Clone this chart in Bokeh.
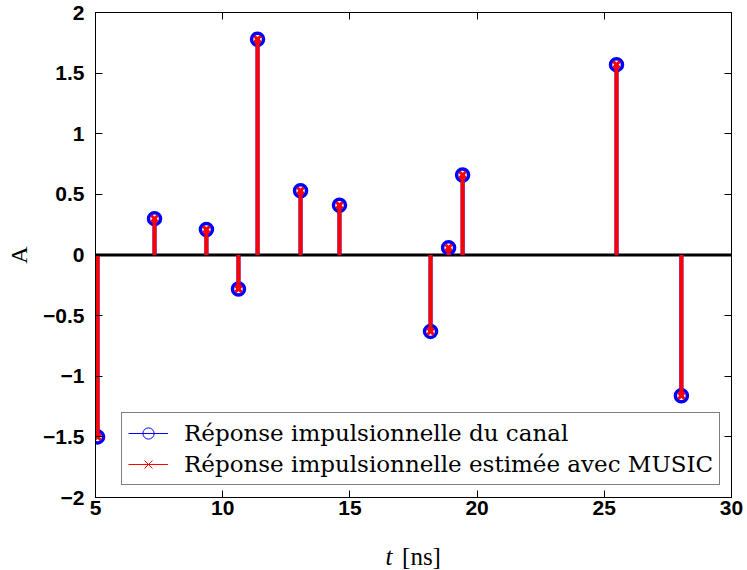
from bokeh.plotting import figure
from bokeh.models import LinearAxis, Legend, LegendItem, Range1d, FixedTicker
from bokeh.layouts import column
from bokeh.core.properties import value
from bokeh.embed import file_html
from bokeh.resources import INLINE

# data
t_ns = [5.08, 7.32, 9.36, 10.62, 11.37, 13.06, 14.59, 18.17, 18.88, 19.43, 25.48, 28.03]
amp_true = [-1.50, 0.30, 0.21, -0.28, 1.78, 0.53, 0.41, -0.63, 0.06, 0.66, 1.57, -1.16]
amp_music = [-1.50, 0.30, 0.21, -0.28, 1.78, 0.53, 0.41, -0.63, 0.06, 0.66, 1.57, -1.16]
x_ticks = [5, 10, 15, 20, 25, 30]
y_ticks = [-2, -1.5, -1, -0.5, 0, 0.5, 1, 1.5, 2]
y_tick_labels = ["\u22122", "\u22121.5", "\u22121", "\u22120.5", "0", "0.5", "1", "1.5", "2"]
legend_labels = ["Réponse impulsionnelle du canal", "Réponse impulsionnelle estimée avec MUSIC"]
x_label_parts = ["t", "[ns]"]
y_label = "A"

W = 747
p = figure(width=W, height=532, output_backend="svg", toolbar_location=None,
           x_range=Range1d(5, 30), y_range=Range1d(-2, 2),
           min_border_left=95, min_border_right=16, min_border_top=12, min_border_bottom=35,
           x_axis_location=None, y_axis_location=None)
p.xgrid.visible = False
p.ygrid.visible = False
p.outline_line_color = "black"
p.outline_line_width = 1
p.background_fill_color = "white"
p.border_fill_color = "white"

def style_axis(ax, ticks, labels=True, overrides=None):
    ax.ticker = FixedTicker(ticks=ticks)
    ax.minor_tick_line_color = None
    ax.major_tick_in = 7
    ax.major_tick_out = 0
    ax.major_tick_line_color = "black"
    ax.axis_line_color = "black"
    if labels:
        ax.major_label_text_font = "Liberation Sans"
        ax.major_label_text_font_style = "bold"
        ax.major_label_text_font_size = "21px"
        ax.major_label_text_color = "black"
        if overrides:
            ax.major_label_overrides = overrides
    else:
        ax.major_label_text_font_size = "1px"
        ax.major_label_text_color = None
        ax.major_label_standoff = 0

xb = LinearAxis()
style_axis(xb, x_ticks)
xb.major_label_standoff = 3
p.add_layout(xb, "below")
yl = LinearAxis(axis_label=y_label)
style_axis(yl, y_ticks, overrides={v: s for v, s in zip(y_ticks, y_tick_labels)})
yl.major_label_standoff = 11
yl.axis_label_text_font = "Liberation Serif"
yl.axis_label_text_font_style = "normal"
yl.axis_label_text_font_size = "24px"
yl.axis_label_text_color = "black"
yl.axis_label_standoff = 8
p.add_layout(yl, "left")
xt = LinearAxis()
style_axis(xt, x_ticks, labels=False)
p.add_layout(xt, "above")
yr = LinearAxis()
style_axis(yr, y_ticks, labels=False)
p.add_layout(yr, "right")

# baseline
p.segment(x0=[5], y0=[0], x1=[30], y1=[0], line_color="black", line_width=3)

# true response stems
zeros = [0] * len(t_ns)
p.segment(x0=t_ns, y0=zeros, x1=t_ns, y1=amp_true, line_color="blue", line_width=4)
p.scatter(t_ns, amp_true, marker="circle", size=12, line_color="blue", line_width=3.5, fill_color=None)
# MUSIC stems
p.segment(x0=t_ns, y0=zeros, x1=t_ns, y1=amp_music, line_color="red", line_width=4)
p.scatter(t_ns, amp_music, marker="x", size=9, line_color="red", line_width=3)

# legend proxies (not drawn in the plot)
nan = [float("nan")]
lb = p.line(nan, nan, line_color="blue", line_width=1)
mb = p.scatter(nan, nan, marker="circle", size=9, line_color="blue", line_width=1, fill_color=None)
lr = p.line(nan, nan, line_color="red", line_width=1)
mr = p.scatter(nan, nan, marker="x", size=8, line_color="red", line_width=1)

legend = Legend(items=[LegendItem(label=legend_labels[0], renderers=[lb, mb]),
                       LegendItem(label=legend_labels[1], renderers=[lr, mr])],
                location=(26, 12), orientation="vertical")
legend.label_text_font = "DejaVu Serif"
legend.label_text_font_size = "23px"
legend.label_text_color = "black"
legend.border_line_color = "black"
legend.border_line_width = 1
legend.background_fill_alpha = 1
legend.glyph_width = 40
legend.glyph_height = 28
legend.label_height = 28
legend.label_standoff = 16
legend.padding = 6
legend.spacing = 3
legend.margin = 0
p.add_layout(legend, "center")

# x axis label strip (italic t + upright [ns])
p2 = figure(width=W, height=38, output_backend="svg", toolbar_location=None,
            x_range=p.x_range, y_range=Range1d(0, 38),
            min_border_left=95, min_border_right=16, min_border_top=0, min_border_bottom=0,
            x_axis_location=None, y_axis_location=None)
p2.xgrid.visible = False
p2.ygrid.visible = False
p2.outline_line_color = None
p2.background_fill_color = "white"
p2.border_fill_color = "white"
p2.text(x=[16.40], y=[14], text=[x_label_parts[0]], text_font=value("Liberation Serif"),
        text_font_style="italic", text_font_size="25px", text_color="black",
        text_align="left", text_baseline="alphabetic")
p2.text(x=[17.05], y=[14], text=[x_label_parts[1]], text_font=value("Liberation Serif"),
        text_font_style="normal", text_font_size="25px", text_color="black",
        text_align="left", text_baseline="alphabetic")

layout = column(p, p2, spacing=0)
open("out.html", "w").write(file_html(layout, INLINE))
